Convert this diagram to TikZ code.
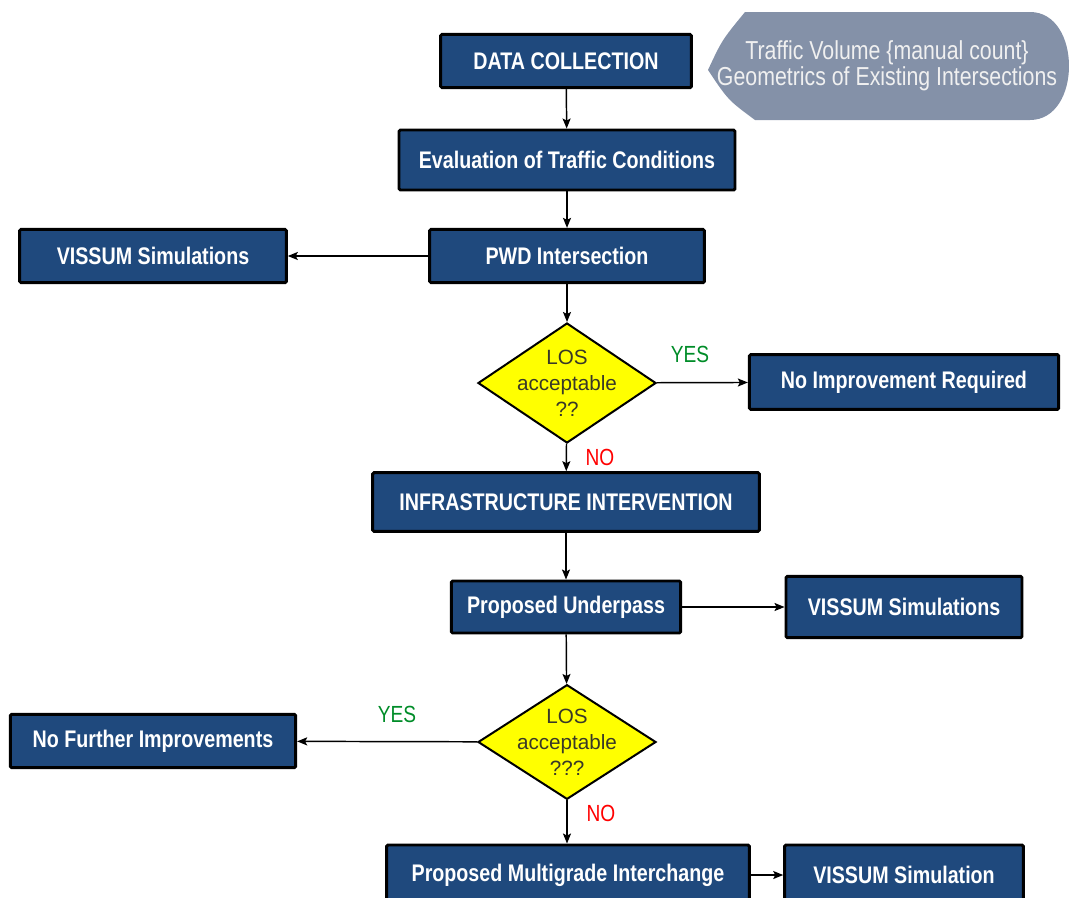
\documentclass[tikz,border=0pt]{standalone}
\usepackage{fontspec}
\setmainfont{Liberation Sans}
\newfontfamily\narrowfont[FakeStretch=0.82]{Liberation Sans}
\usetikzlibrary{shapes.geometric,arrows.meta}

\definecolor{boxblue}{RGB}{31,73,125}
\definecolor{dispgray}{RGB}{132,145,168}
\definecolor{losyellow}{RGB}{255,255,0}
\definecolor{lostext}{RGB}{56,56,40}
\definecolor{yesgreen}{RGB}{0,140,40}

\tikzset{
  box/.style={draw=black, line width=2.2pt, fill=boxblue, text=white, inner sep=0pt,
    rounded corners=1pt, font=\narrowfont\bfseries\fontsize{18}{20}\selectfont},
  decision/.style={diamond, draw=black, line width=1.5pt, fill=losyellow, text=lostext,
    align=center, inner sep=-6pt, aspect=1.48, minimum width=133.5pt, minimum height=90pt,
    font=\fontsize{15.5}{19.5}\selectfont},
  yes/.style={text=yesgreen, font=\narrowfont\fontsize{17.5}{20}\selectfont},
  no/.style={text=red, font=\narrowfont\fontsize{17.5}{20}\selectfont},
}

\begin{document}
\begin{tikzpicture}[x=0.75pt, y=-0.75pt, >={Stealth[length=7.5pt,width=6pt,inset=1.5pt]}, line width=1.1pt]
\useasboundingbox (0,0) rectangle (1069,897);

\fill[dispgray] (745,12) -- (1030,12) .. controls (1082,12) and (1082,120) .. (1030,120)
    -- (755,120) .. controls (728,100) .. (708,70) .. controls (722,40) .. (745,12) -- cycle;
\node (trafficdata) at (887,66) [align=center, text=white!94!black,
    font=\narrowfont\fontsize{19.5}{19.5}\selectfont]
    {Traffic Volume \{manual count\}\\Geometrics of Existing Intersections};

\node (datacoll) at (566,61) [box, minimum width=188pt, minimum height=40pt] {DATA COLLECTION};
\node (evalcond) at (567,160) [box, minimum width=252pt, minimum height=45pt] {Evaluation of Traffic Conditions};
\node (pwd) at (567,256) [box, minimum width=206pt, minimum height=40pt] {PWD Intersection};
\node (vissumleft) at (153,256) [box, minimum width=200pt, minimum height=40pt] {VISSUM Simulations};
\node (los1) at (567,383) [decision] {LOS\\acceptable\\??};
\node (noimprove) at (904,382) [box, minimum width=232pt, minimum height=41pt] {No Improvement Required};
\node (infra) at (566,502) [box, minimum width=290pt, minimum height=44pt] {INFRASTRUCTURE INTERVENTION};
\node (underpass) at (566,607) [box, minimum width=172pt, minimum height=39pt] {Proposed Underpass};
\node (vissumright) at (904,607) [box, minimum width=177pt, minimum height=46pt] {VISSUM Simulations};
\node (los2) at (567,742) [decision, minimum height=86pt] {LOS\\acceptable\\???};
\node (nofurther) at (153,741) [box, minimum width=214pt, minimum height=40pt] {No Further Improvements};
\node (multigrade) at (568,875) [box, minimum width=272pt, minimum height=45pt] {Proposed Multigrade Interchange};
\node (vissumsim) at (904,875) [box, minimum width=179pt, minimum height=45pt] {VISSUM Simulation};

\node (yes1) at (690,354) [yes] {YES};
\node (no1) at (600,457) [no] {NO};
\node (yes2) at (397,714) [yes] {YES};
\node (no2) at (601,813) [no] {NO};

\path[->]
    (datacoll) edge (evalcond)
    (evalcond) edge (pwd)
    (pwd) edge (vissumleft)
    (pwd) edge (los1)
    (los1) edge (noimprove)
    (los1) edge (infra)
    (infra) edge (underpass)
    (underpass) edge (vissumright)
    (underpass) edge (los2)
    (los2) edge (nofurther)
    (los2.south) edge (multigrade.north -| los2.south)
    (multigrade) edge (vissumsim);
\end{tikzpicture}
\end{document}
